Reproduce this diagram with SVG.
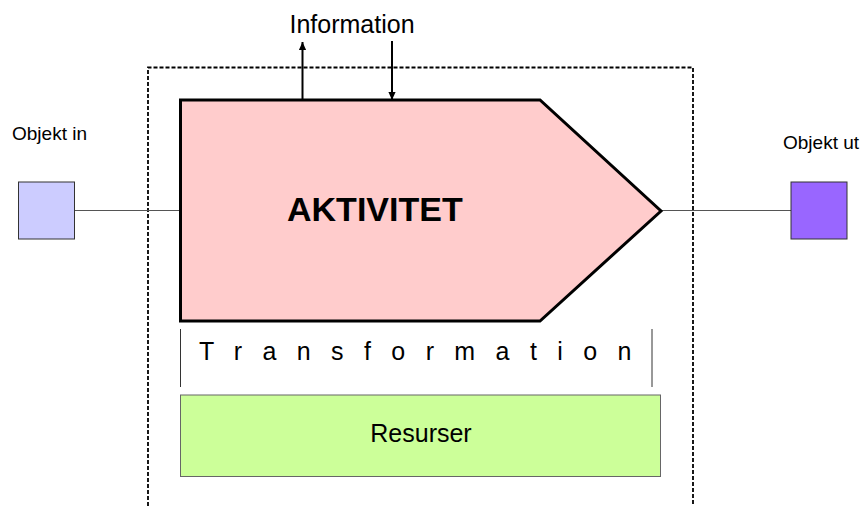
<svg xmlns="http://www.w3.org/2000/svg" width="864" height="506" viewBox="0 0 864 506">
  <defs>
    <marker id="head" viewBox="0 0 10 10" refX="10" refY="5" markerWidth="4" markerHeight="3.6" orient="auto" markerUnits="strokeWidth" preserveAspectRatio="none">
      <path d="M0,0 L10,5 L0,10 Z" fill="#000"/>
    </marker>
    <style>
      text { font-family: "Liberation Sans", Arial, sans-serif; fill: #000; }
      .boundary { fill: none; stroke: #000; stroke-width: 1.8; stroke-dasharray: 4 2; }
      .link { stroke: #555; stroke-width: 1; fill: none; }
      .info { stroke: #000; stroke-width: 2; fill: none; marker-end: url(#head); }
      .obj { stroke: #333; stroke-width: 1; }
      .label { font-size: 19px; }
      .bracket { stroke: #333; stroke-width: 1; }
    </style>
  </defs>

  <rect width="864" height="506" fill="#fff"/>

  <!-- system boundary, open at the bottom -->
  <path class="boundary" d="M148,506 V67.5 H693 V506"/>

  <!-- connectors -->
  <g id="connectors">
    <line class="link" x1="75" y1="210.5" x2="180" y2="210.5"/>
    <line class="link" x1="661" y1="210.5" x2="791" y2="210.5"/>
    <line class="info" x1="302.5" y1="100" x2="302.5" y2="42"/>
    <line class="info" x1="392" y1="41" x2="392" y2="100"/>
  </g>

  <g id="information">
    <text x="352" y="33" font-size="25" text-anchor="middle">Information</text>
  </g>

  <g id="objekt-in">
    <text class="label" x="12" y="140">Objekt in</text>
    <rect class="obj" x="18.5" y="182" width="56" height="57" fill="#ccccff"/>
  </g>

  <g id="objekt-ut">
    <text class="label" x="783" y="149">Objekt ut</text>
    <rect class="obj" x="791" y="182" width="56" height="57" fill="#9966ff"/>
  </g>

  <g id="aktivitet">
    <path d="M180.5,100 H540 L661,211 L540,321 H180.5 Z" fill="#ffcccc" stroke="#000" stroke-width="3" stroke-linejoin="miter"/>
    <text x="287" y="221" font-size="34" font-weight="bold">AKTIVITET</text>
  </g>

  <g id="transformation">
    <line class="bracket" x1="180.5" y1="329" x2="180.5" y2="387"/>
    <line class="bracket" x1="652" y1="329" x2="652" y2="387"/>
    <text x="199" y="360" font-size="25" letter-spacing="20.4">Transformation</text>
  </g>

  <g id="resurser">
    <rect x="180.5" y="395" width="480" height="81.5" fill="#ccff99" stroke="#666" stroke-width="1"/>
    <text x="421" y="442" font-size="25" text-anchor="middle">Resurser</text>
  </g>
</svg>
